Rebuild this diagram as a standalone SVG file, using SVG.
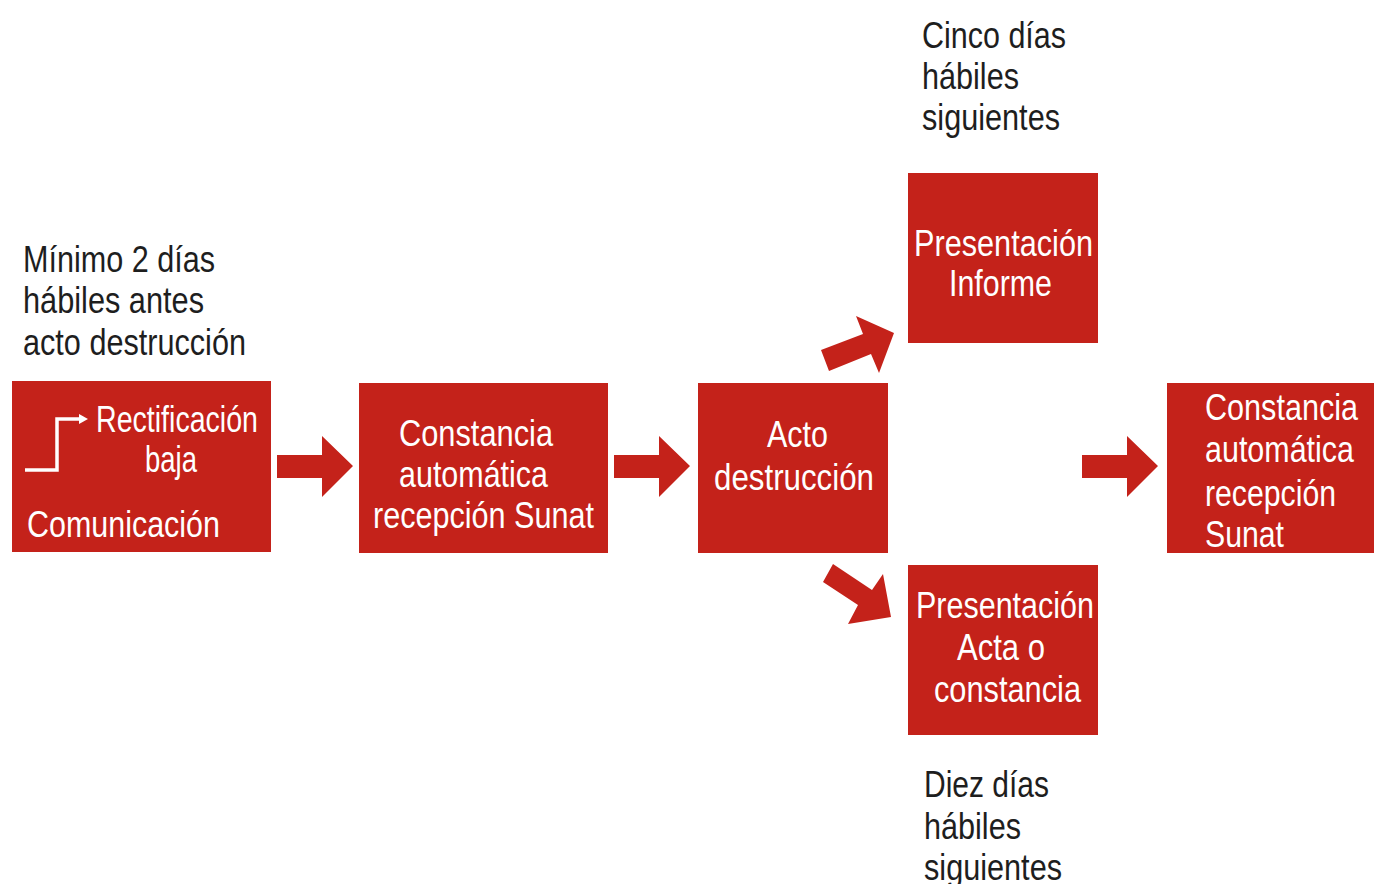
<svg xmlns="http://www.w3.org/2000/svg" width="1374" height="884" viewBox="0 0 1374 884">
<style>
.box{fill:#C4221A}
.arr{fill:#C4221A}
text{font-family:"Liberation Sans Narrow","Liberation Sans",Arial,sans-serif;font-size:36px}
.w{fill:#ffffff}
.k{fill:#1e1e1e}
</style>
<rect width="1374" height="884" fill="#ffffff"/>
<g id="label-minimo">
<text class="k" x="23" y="272" textLength="192" lengthAdjust="spacingAndGlyphs">Mínimo 2 días</text>
<text class="k" x="23" y="313" textLength="181" lengthAdjust="spacingAndGlyphs">hábiles antes</text>
<text class="k" x="23" y="355" textLength="223" lengthAdjust="spacingAndGlyphs">acto destrucción</text>
</g>
<g id="label-cinco">
<text class="k" x="922" y="48" textLength="144" lengthAdjust="spacingAndGlyphs">Cinco días</text>
<text class="k" x="922" y="89" textLength="97" lengthAdjust="spacingAndGlyphs">hábiles</text>
<text class="k" x="922" y="130" textLength="138" lengthAdjust="spacingAndGlyphs">siguientes</text>
</g>
<g id="label-diez">
<text class="k" x="924" y="797" textLength="125" lengthAdjust="spacingAndGlyphs">Diez días</text>
<text class="k" x="924" y="839" textLength="97" lengthAdjust="spacingAndGlyphs">hábiles</text>
<text class="k" x="924" y="880" textLength="138" lengthAdjust="spacingAndGlyphs">siguientes</text>
</g>
<g id="node-comunicacion">
<rect class="box" x="12" y="381" width="259" height="171"/>
<polyline points="25,470 57,470 57,419 80,419" fill="none" stroke="#ffffff" stroke-width="3.5"/>
<polygon points="79,414 88,419 79,424" fill="#ffffff"/>
<text class="w" x="96" y="432" textLength="162" lengthAdjust="spacingAndGlyphs">Rectificación</text>
<text class="w" x="145" y="472" textLength="52" lengthAdjust="spacingAndGlyphs">baja</text>
<text class="w" x="27" y="537" textLength="193" lengthAdjust="spacingAndGlyphs">Comunicación</text>
</g>
<g id="node-constancia1">
<rect class="box" x="359" y="383" width="249" height="170"/>
<text class="w" x="399" y="446" textLength="154" lengthAdjust="spacingAndGlyphs">Constancia</text>
<text class="w" x="399" y="487" textLength="149" lengthAdjust="spacingAndGlyphs">automática</text>
<text class="w" x="373" y="528" textLength="221" lengthAdjust="spacingAndGlyphs">recepción Sunat</text>
</g>
<g id="node-acto">
<rect class="box" x="698" y="383" width="190" height="170"/>
<text class="w" x="767" y="447" textLength="61" lengthAdjust="spacingAndGlyphs">Acto</text>
<text class="w" x="714" y="490" textLength="160" lengthAdjust="spacingAndGlyphs">destrucción</text>
</g>
<g id="node-informe">
<rect class="box" x="908" y="173" width="190" height="170"/>
<text class="w" x="914" y="256" textLength="179" lengthAdjust="spacingAndGlyphs">Presentación</text>
<text class="w" x="949" y="296" textLength="103" lengthAdjust="spacingAndGlyphs">Informe</text>
</g>
<g id="node-acta">
<rect class="box" x="908" y="565" width="190" height="170"/>
<text class="w" x="916" y="618" textLength="178" lengthAdjust="spacingAndGlyphs">Presentación</text>
<text class="w" x="957" y="660" textLength="88" lengthAdjust="spacingAndGlyphs">Acta o</text>
<text class="w" x="934" y="702" textLength="147" lengthAdjust="spacingAndGlyphs">constancia</text>
</g>
<g id="node-constancia2">
<rect class="box" x="1167" y="383" width="207" height="170"/>
<text class="w" x="1205" y="420" textLength="153" lengthAdjust="spacingAndGlyphs">Constancia</text>
<text class="w" x="1205" y="462" textLength="149" lengthAdjust="spacingAndGlyphs">automática</text>
<text class="w" x="1205" y="506" textLength="131" lengthAdjust="spacingAndGlyphs">recepción</text>
<text class="w" x="1205" y="547" textLength="79" lengthAdjust="spacingAndGlyphs">Sunat</text>
</g>
<g id="connectors">
<polygon class="arr" points="277,455 322,455 322,436 353,466 322,497 322,478 277,478"/>
<polygon class="arr" points="614,455 659,455 659,436 690,466 659,497 659,478 614,478"/>
<polygon class="arr" points="1082,455 1127,455 1127,436 1158,466 1127,497 1127,478 1082,478"/>
<polygon class="arr" points="821,350 863,334 856,316 894,333 879,373 871,354 829,371"/>
<polygon class="arr" points="833,564 872,590 883,574 891,617 848,624 858,605 823,582"/>
</g>
</svg>
